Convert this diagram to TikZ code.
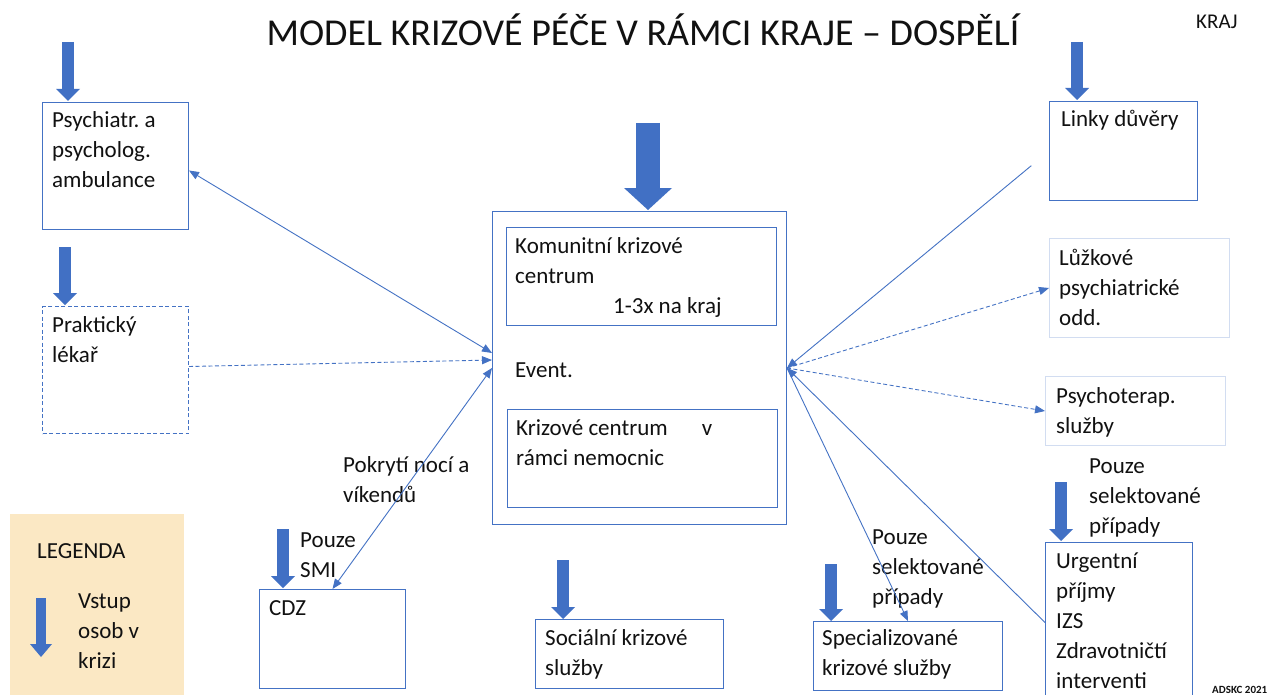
\documentclass[tikz,border=0pt]{standalone}
\usepackage{fontspec}
\setmainfont{Carlito}
\frenchspacing
\usetikzlibrary{arrows.meta,positioning}
\definecolor{ink}{HTML}{111111}
\definecolor{frame}{HTML}{4472C4}
\definecolor{pale}{HTML}{D2DDF1}
\definecolor{entryblue}{HTML}{4170C4}
\definecolor{legendfill}{HTML}{FBE8C4}
\tikzset{
  every node/.style={font=\fontsize{23}{30}\selectfont\frenchspacing,text=ink},
  box/.style={draw=frame,line width=1pt,anchor=north west,inner sep=0pt},
  palebox/.style={box,draw=pale},
  dashbox/.style={box,dash pattern=on 4pt off 2.5pt},
  legendbox/.style={fill=legendfill,anchor=north west,inner sep=0pt},
  txt/.style={anchor=base west,inner sep=0pt,align=flush left,text width=220pt},
  entry/.style={line width=12pt,draw=entryblue,-{Triangle[width=24pt,length=12pt,line width=0pt]}},
  bigentry/.style={line width=24pt,draw=entryblue,-{Triangle[width=48pt,length=22pt,line width=0pt]}},
  smallentry/.style={line width=10pt,draw=entryblue,-{Triangle[width=22pt,length=13pt,line width=0pt]}},
  link/.style={line width=0.9pt,draw=frame,-{Triangle[width=8pt,length=10pt]}},
  twoway/.style={link,{Triangle[width=8pt,length=10pt]}-{Triangle[width=8pt,length=10pt]}},
  maybe/.style={link,dash pattern=on 4pt off 2.5pt},
}
\begin{document}
\begin{tikzpicture}[x=1pt,y=-1pt]
  \fill[white,use as bounding box] (0,0) rectangle (1273,695);

  \node[anchor=base,font=\fontsize{38}{42}\selectfont] (title) at (643,46) {MODEL KRIZOVÉ PÉČE V RÁMCI KRAJE – DOSPĚLÍ};
  \node[txt,font=\fontsize{21}{24}\selectfont] (kraj) at (1196,29) {KRAJ};

  \node[box,minimum width=146pt,minimum height=127pt] (psych) at (42,102) {};
  \node[dashbox,minimum width=146pt,minimum height=127pt] (prakt) at (42,306) {};
  \node[box,minimum width=294pt,minimum height=313pt] (central) at (492,211) {};
  \node[box,minimum width=270pt,minimum height=98pt] (komunit) at (506,227) {};
  \node[box,minimum width=270pt,minimum height=98pt] (nemoc) at (507,409) {};
  \node[box,minimum width=148pt,minimum height=99pt] (linky) at (1049,101) {};
  \node[palebox,minimum width=180pt,minimum height=99pt] (luzko) at (1049,238) {};
  \node[palebox,minimum width=180pt,minimum height=69pt] (terap) at (1045,376) {};
  \node[box,minimum width=147pt,minimum height=160pt] (urg) at (1045,542) {};
  \node[box,minimum width=189pt,minimum height=69pt] (spec) at (813,621) {};
  \node[box,minimum width=188pt,minimum height=69pt] (social) at (535,619) {};
  \node[box,minimum width=146pt,minimum height=99pt] (cdz) at (259,589) {};
  \node[legendbox,minimum width=174pt,minimum height=181pt] (legend) at (10,514) {};

  \node[txt] (psycht) at (52,128) {Psychiatr. a\\psycholog.\\ambulance};
  \node[txt] (praktt) at (52,332) {Praktický\\lékař};
  \node[txt] (komunitt) at (515,253) {Komunitní krizové\\centrum\\\hspace*{98pt}1-3x na kraj};
  \node[txt] (event) at (515,377) {Event.};
  \node[txt] (nemoct) at (516,435) {Krizové centrum\hspace{34pt}v\\rámci nemocnic};
  \node[txt] (linkyt) at (1061,127) {Linky důvěry};
  \node[txt] (luzkot) at (1059,265) {Lůžkové\\psychiatrické\\odd.};
  \node[txt] (terapt) at (1056,403) {Psychoterap.\\služby};
  \node[txt] (urgnote) at (1089,473) {Pouze\\selektované\\případy};
  \node[txt] (urgt) at (1056,568) {Urgentní\\příjmy\\IZS\\Zdravotničtí\\interventi};
  \node[txt] (specnote) at (872,544) {Pouze\\selektované\\případy};
  \node[txt] (spect) at (822,645) {Specializované\\krizové služby};
  \node[txt] (socialt) at (545,645) {Sociální krizové\\služby};
  \node[txt] (cdzt) at (269,615) {CDZ};
  \node[txt] (cdznote) at (300,547) {Pouze\\SMI};
  \node[txt] (nightnote) at (343,472) {Pokrytí nocí a\\víkendů};
  \node[txt] (legendt) at (37,558) {LEGENDA};
  \node[txt] (legendkey) at (78,608) {Vstup\\osob v\\krizi};
  \node[txt,font=\fontsize{11}{12}\selectfont\bfseries] (adskc) at (1212,693) {ADSKC 2021};

  \draw[entry] (68,42) -- (68,101);
  \draw[entry] (65,247) -- (65,305);
  \draw[bigentry] (648,123) -- (648,210);
  \draw[entry] (1077,42) -- (1077,100);
  \draw[entry] (283,529) -- (283,588);
  \draw[entry] (563,560) -- (563,619);
  \draw[entry] (831,564) -- (831,621);
  \draw[entry] (1061,482) -- (1061,541);
  \draw[smallentry] (41,598) -- (41,657);

  \draw[twoway] ([yshift=-4.5pt]psych.east) -- ([yshift=15pt]central.west);
  \draw[maybe] ([yshift=3.5pt]prakt.east) -- ([yshift=8pt]central.west);
  \draw[twoway] (cdz.north) -- (central.west);
  \draw[link,shorten <=23pt] (linky.west) -- (central.east);
  \draw[maybe] (central.east) -- (luzko.west);
  \draw[maybe] (central.east) -- (terap.west);
  \draw[link] (urg.west) -- (central.east);
  \draw[link] (central.east) -- (spec.north);
\end{tikzpicture}
\end{document}
